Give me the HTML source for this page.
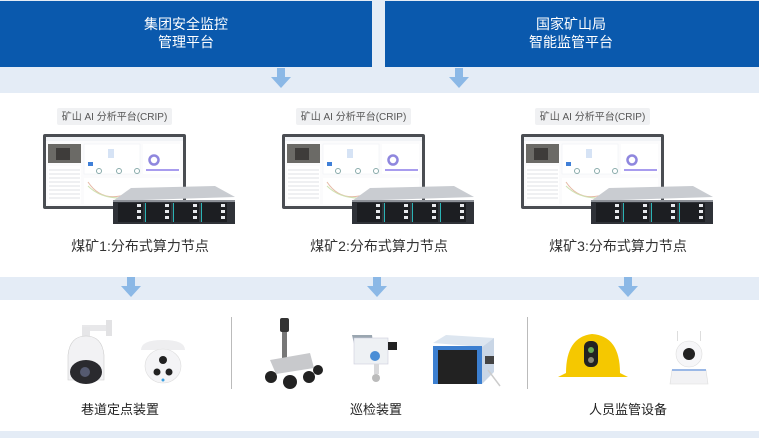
<!DOCTYPE html>
<html><head><meta charset="utf-8"><style>
html,body{margin:0;padding:0;background:#fff}
svg{display:block}
text{font-family:"Liberation Sans","Noto Sans CJK SC",sans-serif}
</style></head><body>
<svg width="759" height="438" viewBox="0 0 759 438" xmlns="http://www.w3.org/2000/svg">
<defs>
<g id="node">
  <rect x="43" y="134" width="143" height="75" rx="2" fill="#4a4d52"/>
  <rect x="46" y="137" width="137" height="69" fill="#fbfbfc"/>
  <rect x="46" y="137" width="137" height="4" fill="#f1f3f6"/>
  <rect x="48" y="144" width="33" height="19" fill="#6b6a66"/>
  <rect x="56" y="148" width="14" height="12" fill="#3e3c3a"/>
  <rect x="48" y="166" width="33" height="38" fill="#fff"/>
  <g stroke="#d5d7dc" stroke-width="0.8">
    <line x1="49" y1="170" x2="80" y2="170"/><line x1="49" y1="174" x2="80" y2="174"/>
    <line x1="49" y1="178" x2="80" y2="178"/><line x1="49" y1="182" x2="80" y2="182"/>
    <line x1="49" y1="186" x2="80" y2="186"/><line x1="49" y1="190" x2="80" y2="190"/>
    <line x1="49" y1="194" x2="80" y2="194"/><line x1="49" y1="198" x2="80" y2="198"/>
  </g>
  <rect x="84" y="144" width="56" height="30" fill="#fff" stroke="#eceef2" stroke-width="0.5"/>
  <rect x="108" y="149" width="6" height="9" fill="#d6e3f5"/>
  <rect x="88" y="162" width="5" height="4" fill="#3f7fd8"/>
  <circle cx="99" cy="171" r="2.5" fill="none" stroke="#8aa" stroke-width="1"/>
  <circle cx="119" cy="171" r="2.5" fill="none" stroke="#8aa" stroke-width="1"/>
  <circle cx="137" cy="171" r="2.5" fill="none" stroke="#8aa" stroke-width="1"/>
  <rect x="143" y="144" width="37" height="30" fill="#fff"/>
  <circle cx="154" cy="160" r="4.5" fill="none" stroke="#8f87de" stroke-width="2.5"/>
  <rect x="146" y="169" width="33" height="2" fill="#a89cee"/>
  <rect x="84" y="178" width="96" height="26" fill="#fff"/>
  <path d="M88 182 Q100 200 120 196 T138 197" fill="none" stroke="#e6b9a6" stroke-width="1"/>
  <path d="M88 186 Q100 198 120 198 T138 199" fill="none" stroke="#cfe2b2" stroke-width="1"/>
  <polygon points="131,188 215,186 235,197 113,201" fill="#c9ccd1"/>
  <rect x="113" y="200" width="122" height="24" fill="#2f3238"/>
  <rect x="113" y="200" width="122" height="2" fill="#8d9198"/>
  <g fill="#1c1e22">
    <rect x="118" y="203" width="25" height="19"/><rect x="146" y="203" width="25" height="19"/>
    <rect x="174" y="203" width="25" height="19"/><rect x="202" y="203" width="25" height="19"/>
  </g>
  <g fill="#e8eaee">
    <rect x="137" y="204" width="4" height="3"/><rect x="137" y="210" width="4" height="3"/><rect x="137" y="216" width="4" height="3"/>
    <rect x="165" y="204" width="4" height="3"/><rect x="165" y="210" width="4" height="3"/><rect x="165" y="216" width="4" height="3"/>
    <rect x="193" y="204" width="4" height="3"/><rect x="193" y="210" width="4" height="3"/><rect x="193" y="216" width="4" height="3"/>
    <rect x="221" y="204" width="4" height="3"/><rect x="221" y="210" width="4" height="3"/><rect x="221" y="216" width="4" height="3"/>
  </g>
  <g fill="#2bb3b5"><rect x="145" y="203" width="1" height="19"/><rect x="173" y="203" width="1" height="19"/><rect x="201" y="203" width="1" height="19"/></g>
  <rect x="57" y="108" width="115" height="17" rx="2" fill="#f0f1f3"/>
</g>
</defs>

<rect x="0" y="0" width="759" height="93" fill="#e4ecf6"/>
<rect x="0" y="1" width="372" height="66" fill="#0a59ad"/>
<rect x="385" y="1" width="374" height="66" fill="#0a59ad"/>
<text x="186" y="29" font-size="14" fill="#fff" text-anchor="middle">集团安全监控</text>
<text x="186" y="47" font-size="14" fill="#fff" text-anchor="middle">管理平台</text>
<text x="571" y="29" font-size="14" fill="#fff" text-anchor="middle">国家矿山局</text>
<text x="571" y="47" font-size="14" fill="#fff" text-anchor="middle">智能监管平台</text>
<g fill="#8bb8e6">
  <rect x="277" y="68" width="8" height="10"/><polygon points="271,77 291,77 281,88"/>
  <rect x="455" y="68" width="8" height="10"/><polygon points="449,77 469,77 459,88"/>
</g>

<use href="#node"/>
<use href="#node" transform="translate(239,0)"/>
<use href="#node" transform="translate(478,0)"/>
<g font-size="10" fill="#555" text-anchor="middle">
  <text x="114.5" y="120">矿山 AI 分析平台(CRIP)</text>
  <text x="353.5" y="120">矿山 AI 分析平台(CRIP)</text>
  <text x="592.5" y="120">矿山 AI 分析平台(CRIP)</text>
</g>
<g font-size="14" fill="#333" text-anchor="middle">
  <text x="140" y="251">煤矿1:分布式算力节点</text>
  <text x="379" y="251">煤矿2:分布式算力节点</text>
  <text x="618" y="251">煤矿3:分布式算力节点</text>
</g>

<rect x="0" y="277" width="759" height="23" fill="#e4ecf6"/>
<g fill="#8bb8e6">
  <rect x="127" y="277" width="8" height="10"/><polygon points="121,286 141,286 131,297"/>
  <rect x="373" y="277" width="8" height="10"/><polygon points="367,286 387,286 377,297"/>
  <rect x="624" y="277" width="8" height="10"/><polygon points="618,286 638,286 628,297"/>
</g>

<rect x="231" y="317" width="1" height="72" fill="#bbb"/>
<rect x="527" y="317" width="1" height="72" fill="#bbb"/>

<rect x="82" y="325" width="28" height="6" fill="#e8e8ea"/>
<rect x="106" y="320" width="6" height="16" fill="#e2e2e4"/>
<rect x="82" y="327" width="8" height="10" fill="#e6e6e8"/>
<path d="M68 380 L68 355 Q70 336 86 336 Q102 336 104 355 L104 380 Z" fill="#f2f2f4" stroke="#ccc" stroke-width="0.6"/>
<ellipse cx="86" cy="372" rx="16" ry="12" fill="#2a2a2e"/>
<circle cx="85" cy="372" r="5" fill="#555a70"/>
<path d="M141 350 Q141 340 163 340 Q185 340 185 350 Z" fill="#eeeef0"/>
<ellipse cx="163" cy="366" rx="18" ry="17" fill="#f4f4f6" stroke="#ddd" stroke-width="0.6"/>
<circle cx="163" cy="360" r="4" fill="#222"/>
<circle cx="157" cy="372" r="3.5" fill="#222"/>
<circle cx="169" cy="372" r="3.5" fill="#222"/>
<circle cx="163" cy="380" r="1.5" fill="#3aa0e0"/>

<rect x="282" y="322" width="5" height="40" fill="#777"/>
<rect x="280" y="318" width="9" height="14" rx="2" fill="#333"/>
<path d="M270 360 L310 353 L314 368 L276 374 Z" fill="#c8c9cc"/>
<circle cx="271" cy="377" r="6" fill="#222"/><circle cx="290" cy="382" r="7" fill="#222"/>
<circle cx="309" cy="377" r="6" fill="#222"/><circle cx="318" cy="370" r="5" fill="#222"/>
<polygon points="352,335 372,335 374,352 356,352" fill="#9aa6b0"/>
<rect x="354" y="338" width="34" height="26" fill="#eef1f4" stroke="#ccd" stroke-width="0.6"/>
<rect x="388" y="342" width="9" height="8" fill="#222"/>
<circle cx="375" cy="356" r="5" fill="#4a8ed6"/>
<rect x="374" y="364" width="5" height="10" fill="#d8d8da"/>
<circle cx="376" cy="378" r="4" fill="#bbb"/>
<polygon points="433,343 446,335 494,338 482,347" fill="#dde6f0"/>
<rect x="433" y="346" width="49" height="38" fill="#3c7fd0"/>
<rect x="438" y="350" width="39" height="34" fill="#222"/>
<polygon points="482,347 494,338 494,372 482,384" fill="#c9d6e6"/>
<rect x="485" y="356" width="9" height="8" fill="#444"/>
<line x1="488" y1="370" x2="500" y2="386" stroke="#ccc" stroke-width="1.5"/>

<path d="M566 373 Q566 337 592 334 Q620 336 620 373 L628 377 L558 377 Z" fill="#f5c800"/>
<rect x="584" y="341" width="14" height="26" rx="6" fill="#222"/>
<circle cx="591" cy="350" r="3" fill="#6a5"/><circle cx="591" cy="360" r="3" fill="#887"/>
<rect x="677" y="331" width="1" height="10" fill="#ddd"/><rect x="700" y="331" width="1" height="10" fill="#ddd"/>
<circle cx="689" cy="354" r="13" fill="#f6f6f8" stroke="#ddd" stroke-width="0.6"/>
<circle cx="689" cy="354" r="6" fill="#222"/>
<path d="M670 384 L672 370 L706 370 L708 384 Z" fill="#f2f2f4" stroke="#ddd" stroke-width="0.6"/>
<rect x="672" y="369" width="34" height="2" fill="#9ab8e6"/>

<g font-size="13" fill="#222" text-anchor="middle">
  <text x="120" y="414">巷道定点装置</text>
  <text x="376" y="414">巡检装置</text>
  <text x="628" y="414">人员监管设备</text>
</g>

<rect x="0" y="431" width="759" height="7" fill="#e4ecf6"/>
</svg>
</body></html>
